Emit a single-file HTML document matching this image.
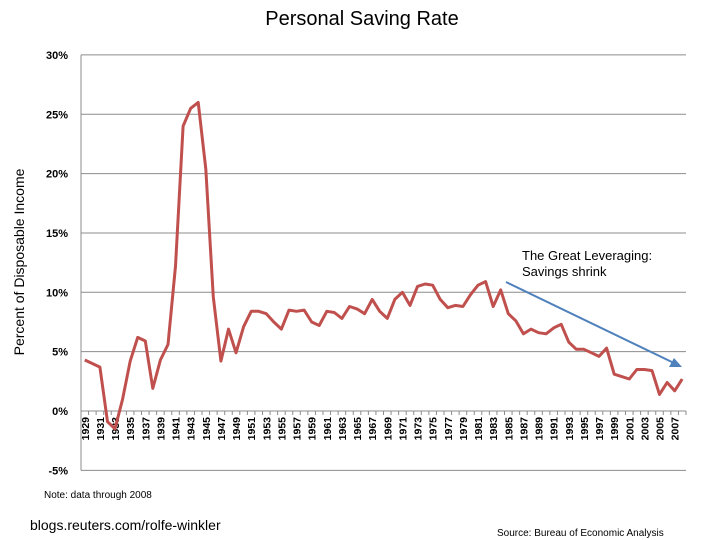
<!DOCTYPE html>
<html><head><meta charset="utf-8"><style>
body{margin:0;background:#fff;}
svg{display:block;font-family:"Liberation Sans",sans-serif;}
</style></head><body>
<svg id="chart" width="720" height="540" viewBox="0 0 720 540">
<text x="362" y="25" font-size="20" text-anchor="middle" fill="#000">Personal Saving Rate</text>
<text transform="translate(24,262) rotate(-90)" font-size="14" text-anchor="middle" fill="#000">Percent of Disposable Income</text>
<g id="grid"></g>
<g id="yticks"></g>
<g id="xticks"></g>
<path id="line" fill="none" stroke="#c0504d" stroke-width="3" stroke-linejoin="round"></path>
<text x="522" y="260" font-size="13" fill="#000">The Great Leveraging:</text>
<text x="522" y="276" font-size="13" fill="#000">Savings shrink</text>
<line x1="506" y1="282" x2="676" y2="364" stroke="#4f81bd" stroke-width="2"/>
<polygon points="682,367 669,367 674,358" fill="#4f81bd"/>
<text x="44" y="498" font-size="10" fill="#000">Note: data through 2008</text>
<text x="30" y="530" font-size="14" fill="#000">blogs.reuters.com/rolfe-winkler</text>
<text x="497" y="536" font-size="10" fill="#000">Source: Bureau of Economic Analysis</text>
</svg>
<script>
const startYear = 1929;
const values = [4.3,4.0,3.7,-0.9,-1.5,1.0,4.2,6.2,5.9,1.9,4.3,5.6,12.2,24.0,25.5,26.0,20.4,9.6,4.2,6.9,4.9,7.1,8.4,8.4,8.2,7.5,6.9,8.5,8.4,8.5,7.5,7.2,8.4,8.3,7.8,8.8,8.6,8.2,9.4,8.4,7.8,9.4,10.0,8.9,10.5,10.7,10.6,9.4,8.7,8.9,8.8,9.8,10.6,10.9,8.8,10.2,8.2,7.6,6.5,6.9,6.6,6.5,7.0,7.3,5.8,5.2,5.2,4.9,4.6,5.3,3.1,2.9,2.7,3.5,3.5,3.4,1.4,2.4,1.7,2.7];
const yTicks = [-5,0,5,10,15,20,25,30];
const NS='http://www.w3.org/2000/svg';
const left=81,right=686,y0=411,pxPer=11.87;
const n=values.length, step=(right-left)/n;
const xs=i=>left+step*(i+0.5);
const ys=v=>y0-v*pxPer;
const grid=document.getElementById('grid'), yt=document.getElementById('yticks'), xt=document.getElementById('xticks');
function mk(tag,attrs,parent){const e=document.createElementNS(NS,tag);for(const k in attrs)e.setAttribute(k,attrs[k]);parent.appendChild(e);return e;}
yTicks.forEach(t=>{
  const y=ys(t);
  if(t!==0){const g=mk('line',{x1:left,x2:right,y1:y,y2:y,stroke:'#8c8c8c','stroke-width':1},grid);
  
  }
  const tx=mk('text',{x:68,y:y+4,'font-size':11,'font-weight':'bold','text-anchor':'end',fill:'#000'},yt);
  tx.textContent=t+'%';
  
  
});
const ax=mk('line',{x1:left,x2:left,y1:ys(30),y2:ys(-5),stroke:'#8c8c8c','stroke-width':1},grid);


const xa=mk('line',{x1:left,x2:right,y1:y0,y2:y0,stroke:'#8c8c8c','stroke-width':1},grid);


for(let i=0;i<=n;i++){const x=left+step*i;const tk=mk('line',{x1:x,x2:x,y1:y0,y2:y0+4,stroke:'#8c8c8c','stroke-width':1},grid);

}
for(let i=0;i<n;i+=2){
  const x=xs(i);
  const tx=mk('text',{transform:`translate(${x+4},${y0+6}) rotate(-90)`,'font-size':10.5,'font-weight':'bold','text-anchor':'end',fill:'#000'},xt);
  tx.textContent=startYear+i;
  
  
}
document.getElementById('line').setAttribute('d',values.map((v,i)=>(i?'L':'M')+xs(i).toFixed(1)+','+ys(v).toFixed(1)).join(''));
</script>
</body></html>
